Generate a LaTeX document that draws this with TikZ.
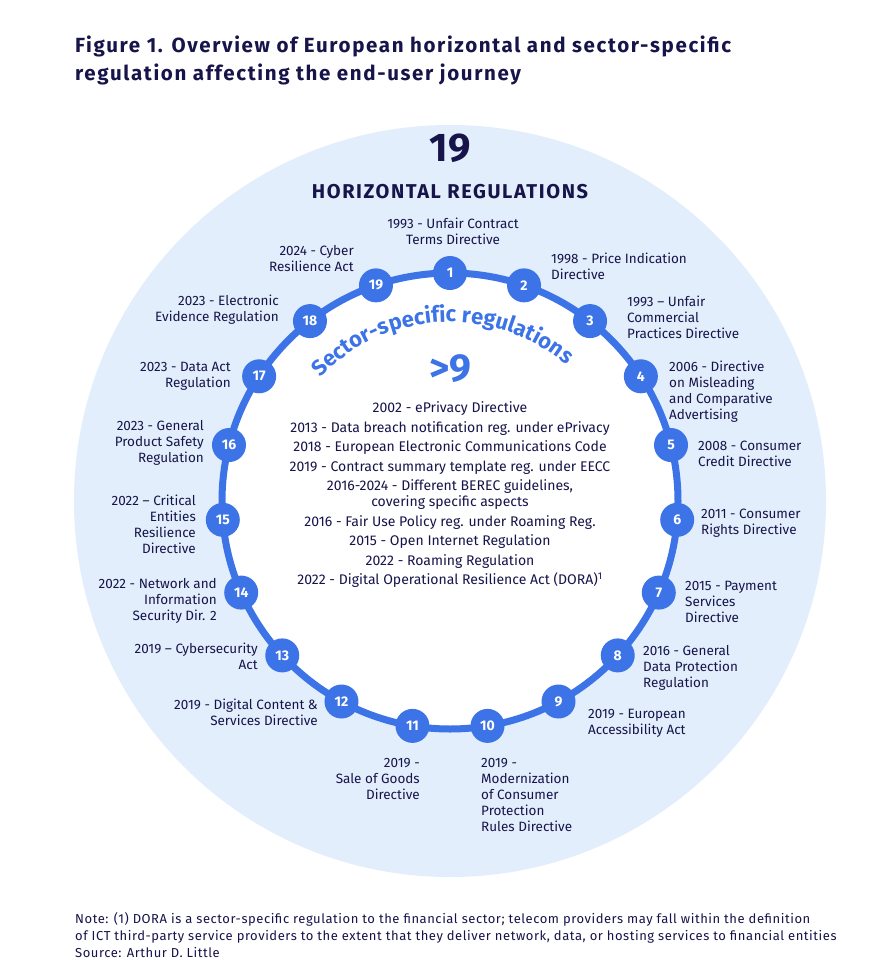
\documentclass[tikz,border=0pt]{standalone}
\usepackage{fontspec}
\setmainfont{Fira Sans}
\usepackage{xcolor}
\usetikzlibrary{positioning, decorations.text}

\definecolor{navy}{HTML}{17144A}
\definecolor{ringblue}{HTML}{3C73E6}
\definecolor{paleblue}{HTML}{E2EEFC}

\begin{document}
\begin{tikzpicture}[x=1pt, y=-1pt,
    reg/.style={font=\fontsize{13.5}{16}\selectfont, text=navy, inner sep=0pt},
    regl/.style={reg, anchor=west, align=left},
    regr/.style={reg, anchor=east, align=right},
    num/.style={circle, fill=ringblue, text=white, minimum size=34pt, inner sep=0pt, font=\fontsize{14}{14}\selectfont\bfseries}]
    \useasboundingbox[fill=white] (0,0) rectangle (879,972);

    \node (title) [anchor=north west, align=left, text=navy, inner sep=0pt, font=\fontsize{20.5}{28}\selectfont\bfseries\addfontfeatures{LetterSpace=8}] at (75,36) {Figure 1. Overview of European horizontal and sector-specific\\regulation affecting the end-user journey};

    % disk and ring
    \fill[paleblue] (450,501) circle (376pt);
    \draw[ringblue, line width=7pt, fill=white] (450,501) circle (228pt);

    \begin{scope}[shift={(450,501)}]
    \foreach \i in {1,...,19}
        \node (n\i) [num] at ({-90+(\i-1)*360/19}:228) {\i};
    \end{scope}

    \begin{scope}[shift={(450,501)}, y=1pt]
    \path[decorate, decoration={text along path, text align=center,
        text={|\fontsize{22}{22}\selectfont\bfseries\color{ringblue}|Sector-specific regulations}}]
        (182:179) arc[start angle=182, end angle=4, radius=179pt];
    \end{scope}

    \node (total) [text=navy, font=\fontsize{40}{40}\selectfont\bfseries] at (450,148) {19};
    \node (horiz) [text=navy, font=\fontsize{20}{20}\selectfont\bfseries\addfontfeatures{LetterSpace=8}] at (450,192) {HORIZONTAL REGULATIONS};
    \node (sector) [text=ringblue, font=\fontsize{39}{39}\selectfont\bfseries] at (450,369) {>9};

    % horizontal regulations
    \node (l1) [reg, align=center] at (453,231) {1993 - Unfair Contract\\Terms Directive};
    \node (l2) [regl] at (551,266) {1998 - Price Indication\\Directive};
    \node (l3) [regl] at (627,317) {1993 – Unfair\\Commercial\\Practices Directive};
    \node (l4) [regl] at (669,392) {2006 - Directive\\on Misleading\\and Comparative\\Advertising};
    \node (l5) [regl] at (698,454) {2008 - Consumer\\Credit Directive};
    \node (l6) [regl] at (701,523) {2011 - Consumer\\Rights Directive};
    \node (l7) [regl] at (685,602) {2015 - Payment\\Services\\Directive};
    \node (l8) [regl] at (643,668) {2016 - General\\Data Protection\\Regulation};
    \node (l9) [regl] at (588,723) {2019 - European\\Accessibility Act};
    \node (l10) [regl] at (481,795) {2019 -\\Modernization\\of Consumer\\Protection\\Rules Directive};
    \node (l11) [regr] at (420,779) {2019 -\\Sale of Goods\\Directive};
    \node (l12) [regr] at (318,712) {2019 - Digital Content \&\\Services Directive};
    \node (l13) [regr] at (258,656) {2019 – Cybersecurity\\Act};
    \node (l14) [regr] at (217,601) {2022 - Network and\\Information\\Security Dir. 2};
    \node (l15) [regr] at (196,524) {2022 – Critical\\Entities\\Resilience\\Directive};
    \node (l16) [regr] at (204,443) {2023 - General\\Product Safety\\Regulation};
    \node (l17) [regr] at (231,376) {2023 - Data Act\\Regulation};
    \node (l18) [regr] at (279,310) {2023 - Electronic\\Evidence Regulation};
    \node (l19) [regr] at (354,259) {2024 - Cyber\\Resilience Act};

    % sector-specific list
    \node (list) [reg, align=center, font=\fontsize{14}{16}\selectfont] at (450,495) {2002 - ePrivacy Directive\\[3.5pt]
        2013 - Data breach notification reg. under ePrivacy\\[3.5pt]
        2018 - European Electronic Communications Code\\[3.5pt]
        2019 - Contract summary template reg. under EECC\\[3.5pt]
        2016-2024 - Different BEREC guidelines,\\
        covering specific aspects\\[3.5pt]
        2016 - Fair Use Policy reg. under Roaming Reg.\\[3.5pt]
        2015 - Open Internet Regulation\\[3.5pt]
        2022 - Roaming Regulation\\[3.5pt]
        2022 - Digital Operational Resilience Act (DORA)\textsuperscript{1}};

    \node (note) [anchor=north west, align=left, inner sep=0pt, text=navy, font=\fontsize{13}{17}\selectfont\addfontfeatures{LetterSpace=4.2}] at (75,912) {Note: (1) DORA is a sector-specific regulation to the financial sector; telecom providers may fall within the definition\\of ICT third-party service providers to the extent that they deliver network, data, or hosting services to financial entities\\Source: Arthur D. Little};
\end{tikzpicture}
\end{document}
